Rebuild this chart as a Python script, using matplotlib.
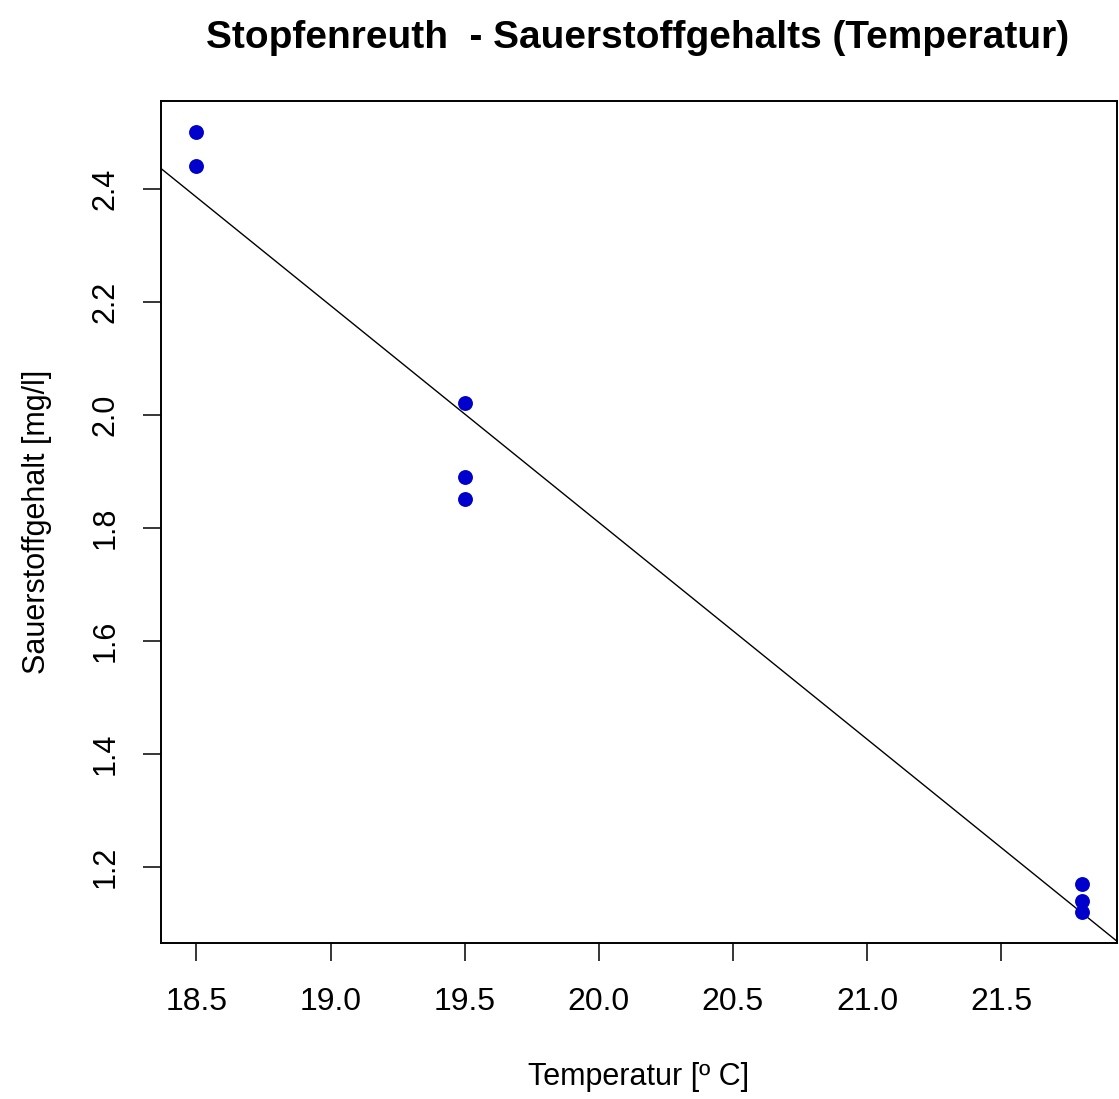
import numpy as np
import matplotlib
matplotlib.use("Agg")
import matplotlib.pyplot as plt

plt.rcParams['font.family'] = ['Liberation Sans', 'DejaVu Sans']

# Messwerte Stopfenreuth
temperatur = [18.5, 18.5, 19.5, 19.5, 19.5, 21.8, 21.8, 21.8]
sauerstoff = [2.50, 2.44, 2.02, 1.89, 1.85, 1.17, 1.14, 1.12]
x_ticks = [18.5, 19.0, 19.5, 20.0, 20.5, 21.0, 21.5]
y_ticks = [1.2, 1.4, 1.6, 1.8, 2.0, 2.2, 2.4]

fig = plt.figure(figsize=(11.19, 10.99), dpi=100)
ax = fig.add_axes([0.1439, 0.1419, 0.9982 - 0.1439, 0.9081 - 0.1419])

ax.scatter(temperatur, sauerstoff, s=115, color='#0000cc', zorder=3, linewidths=0)

# Regressionsgerade (lm)
slope, intercept = np.polyfit(temperatur, sauerstoff, 1)
ax.axline((0, intercept), slope=slope, color='black', linewidth=1.0)

# R-style limits (4% extension)
xr = max(temperatur) - min(temperatur)
yr = max(sauerstoff) - min(sauerstoff)
ax.set_xlim(min(temperatur) - 0.04 * xr, max(temperatur) + 0.04 * xr)
ax.set_ylim(min(sauerstoff) - 0.04 * yr, max(sauerstoff) + 0.04 * yr)

ax.set_xticks(x_ticks)
ax.set_xticklabels(['%.1f' % v for v in x_ticks])
ax.set_yticks(y_ticks)
ax.set_yticklabels(['%.1f' % v for v in y_ticks], rotation=90, va='center')

ax.tick_params(direction='out', length=13, width=1.1, colors='black')
ax.tick_params(axis='x', labelsize=23, pad=19)
ax.tick_params(axis='y', labelsize=22, pad=16)
for sp in ax.spines.values():
    sp.set_linewidth(1.4)

ax.set_xlabel('Temperatur [º C]', fontsize=22, labelpad=32)
ax.set_ylabel('Sauerstoffgehalt [mg/l]', fontsize=22, labelpad=28)

fig.text(0.570, 0.9654, 'Stopfenreuth  - Sauerstoffgehalts (Temperatur)',
         ha='center', va='center', fontsize=28, fontweight='bold')

fig.savefig('out.png', dpi=100)
